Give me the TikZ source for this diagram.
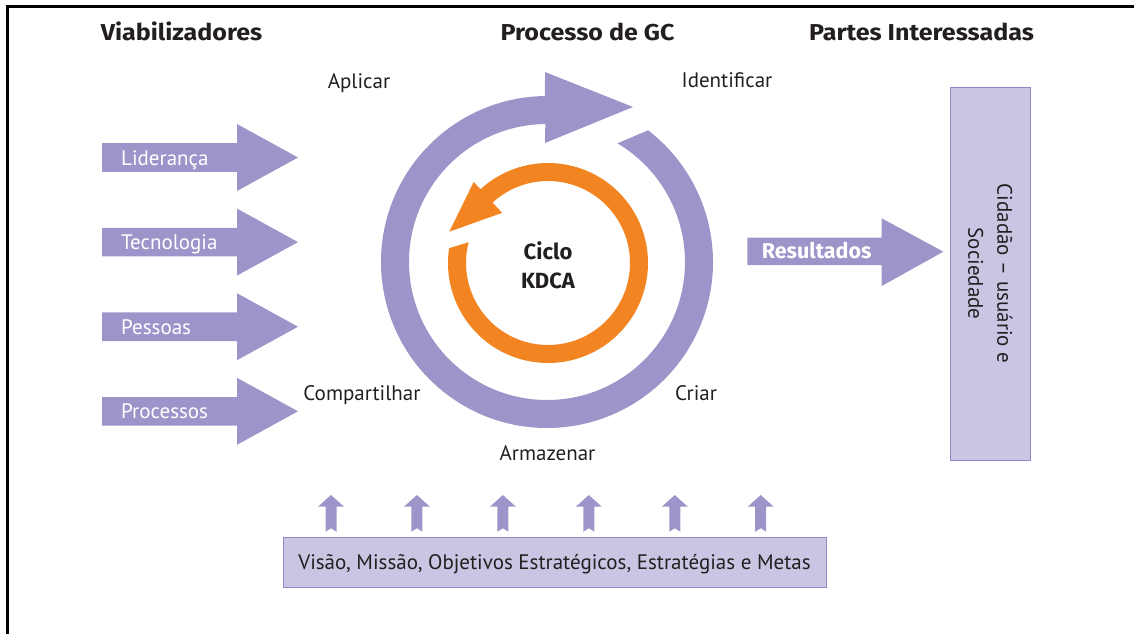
\documentclass[tikz,border=0pt]{standalone}
\usepackage{fontspec}
\setmainfont{PT Sans}
\newfontfamily\heavy{Fira Sans}
\newfontfamily\heading{Fira Sans}[FakeStretch=1.09]
\usetikzlibrary{calc}
\definecolor{lilac}{HTML}{9C95C9}
\definecolor{boxfill}{HTML}{C9C5E3}
\definecolor{boxline}{HTML}{8E88C6}
\definecolor{kdca}{HTML}{F28522}
\definecolor{ink}{HTML}{231F20}

\begin{document}
\begin{tikzpicture}[x=1pt,y=1pt,
  lbl/.style={text=ink, font=\fontsize{21}{25}\selectfont, inner sep=0pt},
  hdr/.style={text=ink, font=\heading\bfseries\fontsize{23}{27}\selectfont, inner sep=0pt, anchor=base},
  boldlbl/.style={text=ink, font=\heavy\bfseries\fontsize{22}{29}\selectfont, inner sep=0pt},
  wlbl/.style={text=white, font=\fontsize{21}{25}\selectfont, inner sep=0pt, anchor=base west},
  panel/.style={fill=boxfill, draw=boxline, line width=1pt},
]
\useasboundingbox (0,0) rectangle (1134,-634);

% outer frame (top and left rules)
\draw[line width=2.5pt] (7.5,-634) -- (7.5,-6.5) -- (1134,-6.5);

% column headings
\node[hdr] (hviab) at (181.5,-40.7) {Viabilizadores};
\node[hdr] (hproc) at (587.5,-40.7) {Processo de GC};
\node[hdr] (hpart) at (921.5,-40.7) {Partes Interessadas};

% knowledge-management cycle (clockwise lilac ring)
\coordinate (gc) at (547,-262);
\fill[lilac] ($(gc)+(52.5:166)$) arc[start angle=52.5, end angle=-269.3, radius=166]
  -- (545,-72) -- (633,-107) -- (545,-143)
  -- ($(gc)+(90.7:138)$) arc[start angle=90.7, end angle=419.3, radius=138] -- cycle;

% KDCA cycle (counter-clockwise orange ring)
\coordinate (kc) at (548,-263);
\fill[kdca] ($(kc)+(171.5:100)$) arc[start angle=171.5, end angle=492.5, radius=100]
  -- ($(kc)+(132.5:110)$) -- (449.3,-231.7) -- ($(kc)+(132.5:68)$)
  -- ($(kc)+(132.5:82)$) arc[start angle=492.5, end angle=165.3, radius=82] -- cycle;

\node[boldlbl, anchor=center, align=center] (kdcalbl) at (548,-265) {Ciclo\\KDCA};

% cycle stages
\node[lbl, anchor=base] (aplicar) at (359,-88) {Aplicar};
\node[lbl, anchor=base] (ident) at (727,-87.3) {Identificar};
\node[lbl, anchor=base] (compart) at (362,-400) {Compartilhar};
\node[lbl, anchor=base] (criar) at (696,-400) {Criar};
\node[lbl, anchor=base] (armaz) at (547.5,-460) {Armazenar};

% enablers
\foreach \yc/\nm/\txt in {157.5/lid/Liderança, 242.1/tec/Tecnologia, 326.7/pes/Pessoas, 411.3/pro/Processos}{
  \fill[lilac] (102,-\yc+14.3) -- (237,-\yc+14.3) -- (237,-\yc+33.5) -- (298,-\yc)
    -- (237,-\yc-33.5) -- (237,-\yc-14.3) -- (102,-\yc-14.3) -- cycle;
  \node[wlbl] (\nm) at (121,-\yc-7.5) {\txt};
}

% results arrow
\fill[lilac] (747.3,-237.5) -- (881.7,-237.5) -- (881.7,-218.3) -- (943.3,-251.7)
  -- (881.7,-286) -- (881.7,-265) -- (747.3,-265) -- cycle;
\node[wlbl, font=\heavy\bfseries\fontsize{21.5}{25}\selectfont] (result) at (761.7,-258.3) {Resultados};

% stakeholders
\node[panel, minimum width=80.7pt, minimum height=372.7pt, inner sep=0pt] (stake) at (990.35,-273.65) {};
\node[lbl, rotate=-90, align=center, font=\fontsize{21}{29}\selectfont] (staketxt) at (stake.center) {Cidadão – usuário e\\Sociedade};

% strategic base
\node[panel, minimum width=543pt, minimum height=50pt, inner sep=0pt] (base) at (554.5,-562.5) {};
\node[lbl, anchor=base] (basetxt) at (554.5,-569.3) {Visão, Missão, Objetivos Estratégicos, Estratégias e Metas};

% upward arrows from the strategic base
\foreach \i in {0,...,5}{
  \pgfmathsetmacro{\ax}{331+85.94*\i}
  \fill[lilac] (\ax,-495) -- (\ax+13,-506.7) -- (\ax+5.5,-506.7) -- (\ax+5.5,-531.7)
    -- (\ax,-528.2) -- (\ax-5.5,-531.7) -- (\ax-5.5,-506.7) -- (\ax-13,-506.7) -- cycle;
}
\end{tikzpicture}
\end{document}
